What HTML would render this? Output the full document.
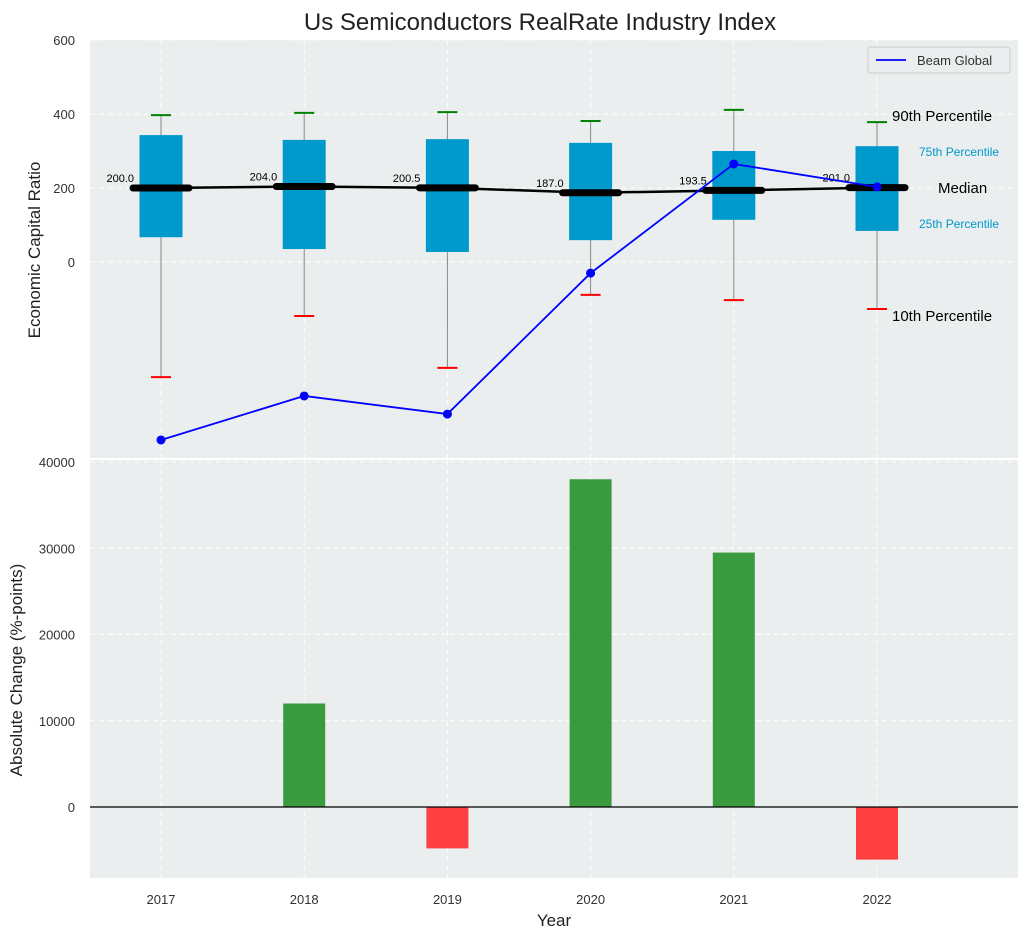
<!DOCTYPE html>
<html><head><meta charset="utf-8"><style>
body{margin:0;background:#fff;font-family:"Liberation Sans","DejaVu Sans",sans-serif}
svg text{font-family:"Liberation Sans","DejaVu Sans",sans-serif}
</style></head><body>
<svg id="c" width="1029" height="940" xmlns="http://www.w3.org/2000/svg"></svg>
<script>
const years=[2017,2018,2019,2020,2021,2022];
const medians=[200.0,204.0,200.5,187.0,193.5,201.0];
const q1s=[67,35,27,59,114,84];
const q3s=[343,330,332,322,300,313];
const p90s=[397,403,405,381,411,378];
const p10s=[-311,-146,-286,-89,-103,-127];
const beam=[-481,-362,-411,-30,265,203];
const changes=[0,12000,-4800,38000,29500,-6100];
const topTicks=[0,200,400,600];
const botTicks=[0,10000,20000,30000,40000];

const NS="http://www.w3.org/2000/svg";
const svg=document.getElementById('c');
function el(tag,attrs,name,text){const e=document.createElementNS(NS,tag);for(const k in attrs)e.setAttribute(k,attrs[k]);


if(text!==undefined)e.textContent=text;svg.appendChild(e);return e;}
const X=y=>161+(y-2017)*143.2;
const YT=v=>262-v*0.37;
const YB=v=>807-v*0.008625;
const L=90,R=1018;
el('text',{x:540,y:30,'font-size':24,'text-anchor':'middle',fill:'#222'},'chart-title','Us Semiconductors RealRate Industry Index');
el('rect',{x:L,y:40,width:R-L,height:418,fill:'#eaeeee'},'top-plot-area');
el('rect',{x:L,y:460,width:R-L,height:418,fill:'#eaeeee'},'bottom-plot-area');
years.forEach(y=>{el('line',{x1:X(y),x2:X(y),y1:40,y2:458,stroke:'#fff','stroke-dasharray':'5,4'},'top-x-grid');
el('line',{x1:X(y),x2:X(y),y1:460,y2:878,stroke:'#fff','stroke-dasharray':'5,4'},'bottom-x-grid');
el('text',{x:X(y),y:904,'font-size':13,'text-anchor':'middle',fill:'#333'},'x-tick-label',y);});
topTicks.forEach(t=>{el('line',{x1:L,x2:R,y1:YT(t),y2:YT(t),stroke:'#fff','stroke-dasharray':'5,4'},'top-y-grid');
el('text',{x:75,y:YT(t)+5,'font-size':13,'text-anchor':'end',fill:'#333'},'top-y-tick-label',t);});
botTicks.forEach(t=>{el('line',{x1:L,x2:R,y1:YB(t),y2:YB(t),stroke:'#fff','stroke-dasharray':'5,4'},'bottom-y-grid');
el('text',{x:75,y:YB(t)+5,'font-size':13,'text-anchor':'end',fill:'#333'},'bottom-y-tick-label',t);});
el('text',{x:0,y:0,'font-size':17,'text-anchor':'middle',fill:'#222',transform:'translate(40,250) rotate(-90)'},'top-y-axis-title','Economic Capital Ratio');
el('text',{x:0,y:0,'font-size':17,'text-anchor':'middle',fill:'#222',transform:'translate(22,670) rotate(-90)'},'bottom-y-axis-title','Absolute Change (%-points)');
el('text',{x:554,y:926,'font-size':17,'text-anchor':'middle',fill:'#222'},'x-axis-title','Year');
years.forEach((y,i)=>{const x=X(y);
el('line',{x1:x,x2:x,y1:YT(p90s[i]),y2:YT(p10s[i]),stroke:'#888','stroke-width':1},'whisker');
el('rect',{x:x-21.5,y:YT(q3s[i]),width:43,height:YT(q1s[i])-YT(q3s[i]),fill:'#0099cc'},'iqr-box');
el('line',{x1:x-10,x2:x+10,y1:YT(p90s[i]),y2:YT(p90s[i]),stroke:'green','stroke-width':2},'p90-cap');
el('line',{x1:x-10,x2:x+10,y1:YT(p10s[i]),y2:YT(p10s[i]),stroke:'red','stroke-width':2},'p10-cap');
el('line',{x1:x-28,x2:x+28,y1:YT(medians[i]),y2:YT(medians[i]),stroke:'#000','stroke-width':7,'stroke-linecap':'round'},'median-bar');
el('text',{x:x-27,y:YT(medians[i])-6,'font-size':11,'text-anchor':'end',fill:'#000'},'median-label',medians[i].toFixed(1));});
el('polyline',{points:years.map((y,i)=>X(y)+','+YT(medians[i])).join(' '),fill:'none',stroke:'#000','stroke-width':2.5},'median-line');
el('polyline',{points:years.map((y,i)=>X(y)+','+YT(beam[i])).join(' '),fill:'none',stroke:'blue','stroke-width':1.8},'beam-global-line');
years.forEach((y,i)=>el('circle',{cx:X(y),cy:YT(beam[i]),r:4.5,fill:'blue'},'beam-global-point'));
el('text',{x:892,y:121,'font-size':15,fill:'#000'},'p90-annotation','90th Percentile');
el('text',{x:919,y:156,'font-size':12,fill:'#0099cc'},'p75-annotation','75th Percentile');
el('text',{x:938,y:193,'font-size':15,fill:'#000'},'median-annotation','Median');
el('text',{x:919,y:228,'font-size':12,fill:'#0099cc'},'p25-annotation','25th Percentile');
el('text',{x:892,y:321,'font-size':15,fill:'#000'},'p10-annotation','10th Percentile');
el('rect',{x:868,y:47,width:142,height:26,fill:'#eaeeee',stroke:'#ccc',rx:3},'legend-box');
el('line',{x1:876,x2:906,y1:60,y2:60,stroke:'blue','stroke-width':1.8},'legend-line');
el('text',{x:917,y:65,'font-size':13,fill:'#333'},'legend-entry','Beam Global');
years.forEach((y,i)=>{const v=changes[i];if(!v)return;const y0=YB(Math.max(v,0)),h=Math.abs(YB(v)-YB(0));
el('rect',{x:X(y)-21,y:y0,width:42,height:h,fill:v>0?'#3a9a3e':'#ff4040'},'change-bar');});
el('line',{x1:L,x2:R,y1:YB(0),y2:YB(0),stroke:'#000','stroke-width':1.2},'zero-line');
</script>
</body></html>
